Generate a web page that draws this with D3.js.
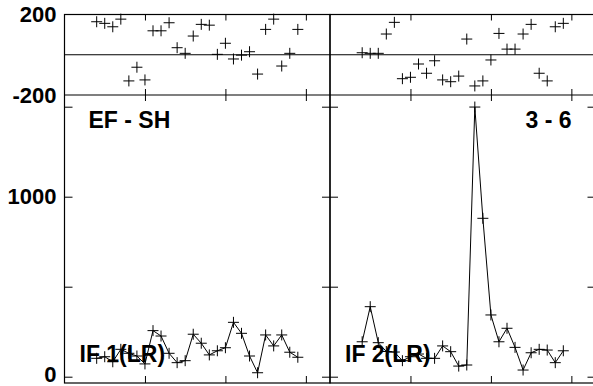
<!DOCTYPE html>
<html>
<head>
<meta charset="utf-8">
<script src="https://cdn.jsdelivr.net/npm/d3@7"></script>
<style>
  html, body { margin: 0; padding: 0; background: #fff; }
  svg text { font-family: "Liberation Sans", Arial, sans-serif; font-weight: bold; }
</style>
</head>
<body>
<div id="chart"></div>
<script>
// ---- data ----
const xVals = [4, 5, 6, 7, 8, 9, 10, 11, 12, 13, 14, 15, 16, 17, 18, 19, 20, 21, 22, 23, 24, 25, 26, 27, 28, 29];

// top strip: differences (points only)
const diffLeft  = [164, 156, 139, 177, -130, -62, -125, 119, 119, 159, 35, 7, 93, 151, 147, 2, 57, -21, -2, 15, -96, 126, 177, -56, 7, 126];
const diffRight = [10, 7, 7, 103, 161, -119, -112, -46, -92, -30, -125, -134, -106, 78, -155, -130, -26, 106, 28, 28, 103, 151, -92, -130, 139, 156];

// bottom: IF series (line + points)
const if1 = [102, 111, 83, 152, 130, 115, 71, 256, 226, 130, 78, 89, 236, 186, 121, 144, 161, 302, 241, 115, 22, 232, 171, 232, 136, 108];
const if2 = [194, 389, 189, 140, 137, 89, 111, 126, 102, 102, 171, 139, 59, 65, 1498, 880, 343, 194, 269, 163, 37, 133, 152, 148, 78, 144];

const panelTitles  = ["EF - SH", "3 - 6"];
const seriesLabels = ["IF 1(LR)", "IF 2(LR)"];
const xTicks    = [10, 20, 30];
const topTicks  = [-200, 200];
const botTicks  = [0, 500, 1000, 1500];
const botLabels = [0, 1000];

// ---- layout ----
const W = 593, H = 386;
const panelX = [64.5, 330];
const panelW = 265.5;
const topY0 = 14.5, midY = 95, botY1 = 383;

const svg = d3.select("#chart").append("svg")
    .attr("width", W).attr("height", H)
    .style("display", "block");

const yTop = d3.scaleLinear().domain([-200, 200]).range([midY, topY0]);
const yBot = d3.scaleLinear().domain([-35, 1565]).range([botY1, midY]);

const cross = "M-5.5,0H5.5M0,-5.5V5.5";

function cleanAxis(g) {
  g.select(".domain").remove();
  g.selectAll(".tick line").attr("stroke", "#000").attr("stroke-width", 1);
}

panelX.forEach((x0, p) => {
  const x = d3.scaleLinear().domain([0, 33]).range([x0, x0 + panelW]);
  const topData = p === 0 ? diffLeft : diffRight;
  const botData = p === 0 ? if1 : if2;

  // mirrored ticks, all pointing inward
  svg.append("g").attr("transform", `translate(0,${topY0})`)
    .call(d3.axisTop(x).tickValues(xTicks).tickSize(-6).tickFormat(""))
    .call(cleanAxis);
  svg.append("g").attr("transform", `translate(0,${midY})`)
    .call(d3.axisBottom(x).tickValues(xTicks).tickSize(-6).tickFormat(""))
    .call(cleanAxis);
  svg.append("g").attr("transform", `translate(0,${midY})`)
    .call(d3.axisTop(x).tickValues(xTicks).tickSize(-6).tickFormat(""))
    .call(cleanAxis);
  svg.append("g").attr("transform", `translate(0,${botY1})`)
    .call(d3.axisBottom(x).tickValues(xTicks).tickSize(-7).tickFormat(""))
    .call(cleanAxis);

  svg.append("g").attr("transform", `translate(${x0},0)`)
    .call(d3.axisLeft(yBot).tickValues(botTicks).tickSize(-8)
      .tickPadding(p === 0 ? 8 : 0)
      .tickFormat(d => (p === 0 && botLabels.includes(d)) ? String(d) : ""))
    .call(cleanAxis)
    .call(g => g.selectAll("text").attr("fill", "#000").style("font-size", "22px")
      .attr("y", d => d === 0 ? -2.5 : 0));
  svg.append("g").attr("transform", `translate(${x0 + panelW},0)`)
    .call(d3.axisRight(yBot).tickValues(botTicks).tickSize(-8).tickFormat(""))
    .call(cleanAxis);

  if (p === 0) {
    svg.append("g").attr("transform", `translate(${x0},0)`)
      .call(d3.axisLeft(yTop).tickValues(topTicks).tickSize(0).tickPadding(8)
        .tickFormat(d => String(d)))
      .call(cleanAxis)
      .call(g => g.selectAll("text").attr("fill", "#000").style("font-size", "22px"));
  }

  // panel frame
  svg.append("rect")
    .attr("x", x0).attr("y", topY0)
    .attr("width", panelW).attr("height", botY1 - topY0)
    .attr("fill", "none").attr("stroke", "#000").attr("stroke-width", 1.2);

  // labels
  svg.append("text")
    .attr("x", p === 0 ? x0 + 24 : x0 + panelW - 24)
    .attr("y", 127.5)
    .attr("text-anchor", p === 0 ? "start" : "end")
    .style("font-size", "23px")
    .text(panelTitles[p]);
  svg.append("text")
    .attr("x", x0 + 15)
    .attr("y", 362)
    .style("font-size", "23px")
    .text(seriesLabels[p]);

  // top strip points
  svg.append("g").selectAll("path")
    .data(topData)
    .join("path")
    .attr("transform", (d, i) => `translate(${x(xVals[i])},${yTop(d)})`)
    .attr("d", cross)
    .attr("stroke", "#000").attr("stroke-width", 1).attr("fill", "none");

  // bottom line + points
  const line = d3.line()
    .x((d, i) => x(xVals[i]))
    .y(d => yBot(d));
  svg.append("path")
    .datum(botData)
    .attr("d", line)
    .attr("fill", "none").attr("stroke", "#000").attr("stroke-width", 1);
  svg.append("g").selectAll("path")
    .data(botData)
    .join("path")
    .attr("transform", (d, i) => `translate(${x(xVals[i])},${yBot(d)})`)
    .attr("d", cross)
    .attr("stroke", "#000").attr("stroke-width", 1).attr("fill", "none");
});

// zero line and strip boundary across both panels
svg.append("line")
  .attr("x1", panelX[0]).attr("x2", W)
  .attr("y1", yTop(0)).attr("y2", yTop(0))
  .attr("stroke", "#000").attr("stroke-width", 1.2);
svg.append("line")
  .attr("x1", panelX[0]).attr("x2", W)
  .attr("y1", midY).attr("y2", midY)
  .attr("stroke", "#000").attr("stroke-width", 1.2);
</script>
</body>
</html>
